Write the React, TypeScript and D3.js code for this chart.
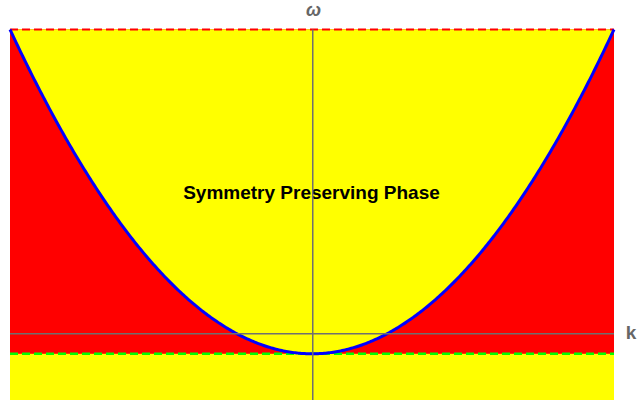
import React from "react";
import * as d3 from "d3";

const kRange = [-2, 2];
const omegaRange = [-0.82, 3.75];
const gapValue = [0.25]; // ω = k² − gap
const topLine = [3.75];
const labels = ["Symmetry Preserving Phase"];
const axisLabels = ["k", "ω"];

const W = 641;
const H = 400;

export default function App() {
  const x = d3.scaleLinear().domain(kRange).range([10, 614]);
  const y = d3.scaleLinear().domain(omegaRange).range([400, 29.5]);
  const gap = gapValue[0];
  const f = (k: number) => k * k - gap;
  const ks = d3.range(kRange[0], kRange[1] + 1e-9, 0.01);
  const line = d3
    .line<number>()
    .x((k) => x(k))
    .y((k) => y(f(k)));
  const area = d3
    .area<number>()
    .x((k) => x(k))
    .y0(() => y(topLine[0]))
    .y1((k) => y(f(k)));
  const x0 = x(kRange[0]);
  const x1 = x(kRange[1]);
  const yTop = y(topLine[0]);
  const yGap = y(-gap);
  const ax = Math.floor(x(0)) + 0.5;
  const ay = Math.floor(y(0)) + 0.5;
  return (
    <svg
      width={W}
      height={H}
      style={{ position: "absolute", left: 0, top: 0 }}
      fontFamily="'Liberation Sans', Arial, sans-serif"
    >
      <rect x={0} y={0} width={W} height={H} fill="#fff" />
      <rect x={x0} y={yTop} width={x1 - x0} height={H - yTop} fill="#FFFF00" />
      <rect x={x0} y={yTop} width={x1 - x0} height={yGap - yTop} fill="#FF0000" />
      <path d={area(ks) || ""} fill="#FFFF00" />
      <text
        x={311.5}
        y={199}
        textAnchor="middle"
        fontSize={19}
        fontWeight="bold"
        fill="#000"
      >
        {labels[0]}
      </text>
      <line x1={x0} x2={x1} y1={yTop} y2={yTop} stroke="#FF0000" strokeWidth={2} strokeDasharray="8,4" />
      <line x1={x0} x2={x1} y1={yGap} y2={yGap} stroke="#00FF00" strokeWidth={2.5} strokeDasharray="8,4" />
      <path d={line(ks) || ""} fill="none" stroke="#0000FF" strokeWidth={3} />
      <line x1={x0} x2={x1} y1={ay + 0.25} y2={ay + 0.25} stroke="#707070" strokeWidth={1.5} />
      <line x1={ax + 0.25} x2={ax + 0.25} y1={yTop} y2={H} stroke="#707070" strokeWidth={1.5} />
      <text x={631} y={339} textAnchor="middle" fontSize={19} fontWeight="bold" fill="#666">
        {axisLabels[0]}
      </text>
      <text x={313.5} y={16} textAnchor="middle" fontSize={18} fontWeight="bold" fontStyle="italic" fill="#666">
        {axisLabels[1]}
      </text>
    </svg>
  );
}
